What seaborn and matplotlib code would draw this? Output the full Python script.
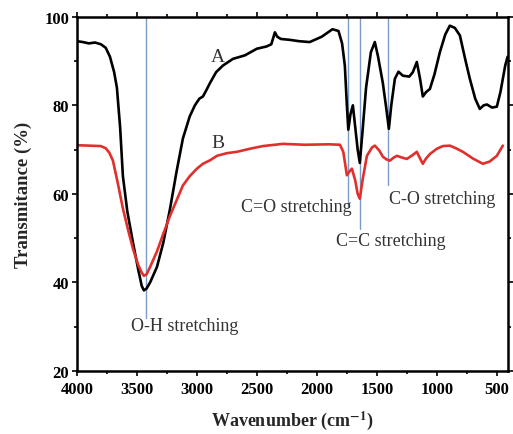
import numpy as np
import pandas as pd
import matplotlib
matplotlib.use("Agg")
import matplotlib.pyplot as plt
from matplotlib.ticker import MultipleLocator
import seaborn as sns

# FTIR 스펙트럼
wn_a = [4000, 3950, 3900, 3850, 3800, 3760, 3725, 3690, 3667, 3640, 3617, 3580,
        3533, 3490, 3460, 3442, 3420, 3390, 3333, 3280, 3225, 3170, 3117, 3060,
        3017, 2980, 2950, 2920, 2892, 2840, 2783, 2700, 2600, 2500, 2420, 2380,
        2350, 2330, 2300, 2225, 2150, 2060, 1960, 1870, 1820, 1790, 1767, 1750,
        1738, 1720, 1700, 1680, 1660, 1642, 1620, 1590, 1550, 1517, 1490, 1450,
        1420, 1400, 1380, 1350, 1320, 1283, 1230, 1200, 1167, 1140, 1117, 1090,
        1058, 1020, 975, 930, 892, 850, 808, 760, 725, 680, 642, 610, 583, 540,
        500, 470, 450, 430, 410]
trans_a = [94.5, 94.3, 94.0, 94.2, 93.8, 93.0, 91.0, 87.5, 84.0, 75.0, 64.0, 56.0,
           49.0, 43.0, 39.2, 38.2, 38.6, 40.0, 43.5, 49.0, 56.5, 65.0, 72.5, 77.5,
           80.0, 81.5, 82.0, 83.5, 85.0, 87.5, 89.0, 90.5, 91.3, 92.8, 93.3, 93.8,
           96.5, 95.5, 95.0, 94.8, 94.5, 94.3, 95.5, 97.2, 96.8, 94.0, 89.0, 80.0,
           74.5, 78.0, 80.0, 75.0, 70.0, 67.0, 74.0, 84.0, 92.0, 94.3, 91.0, 85.0,
           79.0, 74.7, 80.0, 86.0, 87.6, 86.7, 86.5, 87.5, 89.8, 86.0, 82.0, 83.0,
           83.7, 87.0, 92.0, 96.0, 98.0, 97.5, 95.8, 90.0, 86.0, 81.5, 79.2, 80.0,
           80.2, 79.5, 79.7, 83.0, 86.0, 89.0, 91.0]

wn_b = [4000, 3900, 3800, 3760, 3730, 3700, 3660, 3617, 3575, 3533, 3490, 3460,
        3442, 3420, 3390, 3333, 3280, 3225, 3170, 3117, 3060, 3000, 2950, 2890,
        2833, 2750, 2667, 2558, 2450, 2283, 2100, 1900, 1808, 1780, 1760, 1750,
        1730, 1708, 1680, 1660, 1642, 1620, 1583, 1540, 1517, 1480, 1450, 1420,
        1392, 1360, 1333, 1290, 1250, 1200, 1167, 1140, 1117, 1090, 1058, 1000,
        950, 892, 840, 783, 700, 617, 560, 500, 450]
trans_b = [71.0, 70.9, 70.8, 70.3, 69.3, 67.5, 62.5, 56.7, 52.0, 47.6, 44.0, 42.2,
           41.5, 41.8, 43.5, 47.0, 51.0, 55.0, 58.5, 61.9, 64.0, 65.7, 66.8, 67.6,
           68.6, 69.2, 69.5, 70.2, 70.8, 71.3, 71.1, 71.2, 71.1, 69.5, 66.0, 64.2,
           65.0, 65.7, 63.0, 60.0, 58.9, 63.0, 68.6, 70.5, 70.9, 69.8, 68.4, 67.8,
           67.5, 68.2, 68.6, 68.2, 67.9, 68.8, 69.5, 68.0, 66.8, 68.0, 69.0, 70.2,
           70.8, 70.9, 70.3, 69.5, 68.0, 66.8, 67.3, 68.6, 70.9]

# 피크 표시선: (파수, 아래 끝 투과율)
peak_wn = [3425, 1742, 1642, 1408]
peak_low = [32, 57, 52, 62]
peak_labels = ["O-H stretching", "C=O stretching", "C=C stretching", "C-O stretching"]
label_pos = [(3100, 30.2), (2175, 57.2), (1383, 49.4), (958, 58.9)]

df = pd.concat([
    pd.DataFrame({"wn": wn_a, "T": trans_a, "sample": "A"}),
    pd.DataFrame({"wn": wn_b, "T": trans_b, "sample": "B"}),
])

sns.set_theme(style="ticks")
plt.rcParams["font.family"] = ["Liberation Serif", "DejaVu Serif"]
plt.rcParams["mathtext.fontset"] = "stix"

fig = plt.figure(figsize=(5.13, 4.35), dpi=100)
ax = fig.add_axes([0.150, 0.145, 0.840, 0.814])

# 피크 위치 표시선
for w, lo in zip(peak_wn, peak_low):
    ax.plot([w, w], [lo, 100], color="#7b9cc6", lw=1.0, zorder=1)

sns.lineplot(data=df, x="wn", y="T", hue="sample", palette={"A": "black", "B": "#e0302e"},
             sort=False, estimator=None, lw=1.9, legend=False, ax=ax, zorder=2)

ax.text(2825, 91, "A", fontsize=14, color="#333333", ha="center", va="center")
ax.text(2825, 71.5, "B", fontsize=14, color="#333333", ha="center", va="center")
for txt, (x, y) in zip(peak_labels, label_pos):
    ax.text(x, y, txt, fontsize=13, color="#333333", ha="center", va="center")

ax.set_xlim(4000, 408)
ax.set_ylim(20, 100)
ax.xaxis.set_major_locator(MultipleLocator(500))
ax.xaxis.set_minor_locator(MultipleLocator(250))
ax.yaxis.set_major_locator(MultipleLocator(20))
ax.yaxis.set_minor_locator(MultipleLocator(10))
ax.tick_params(which="both", direction="out", top=True, right=True, width=1.2, colors="black")
ax.tick_params(which="major", length=3.5, labelsize=12)
ax.tick_params(axis="x", which="major", pad=4)
ax.tick_params(axis="y", which="major", pad=2)
ax.tick_params(which="minor", length=2.5)
for lab in ax.get_xticklabels() + ax.get_yticklabels():
    lab.set_fontweight("bold")
for sp in ax.spines.values():
    sp.set_linewidth(1.8)
    sp.set_color("black")

ax.set_xlabel(r"Wavenumber (cm$^{\mathbf{-1}}$)", fontsize=13, fontweight="bold", labelpad=8)
ax.set_ylabel("Transmitance (%)", fontsize=13.5, fontweight="bold", labelpad=9)

fig.savefig("out.png", dpi=100)
